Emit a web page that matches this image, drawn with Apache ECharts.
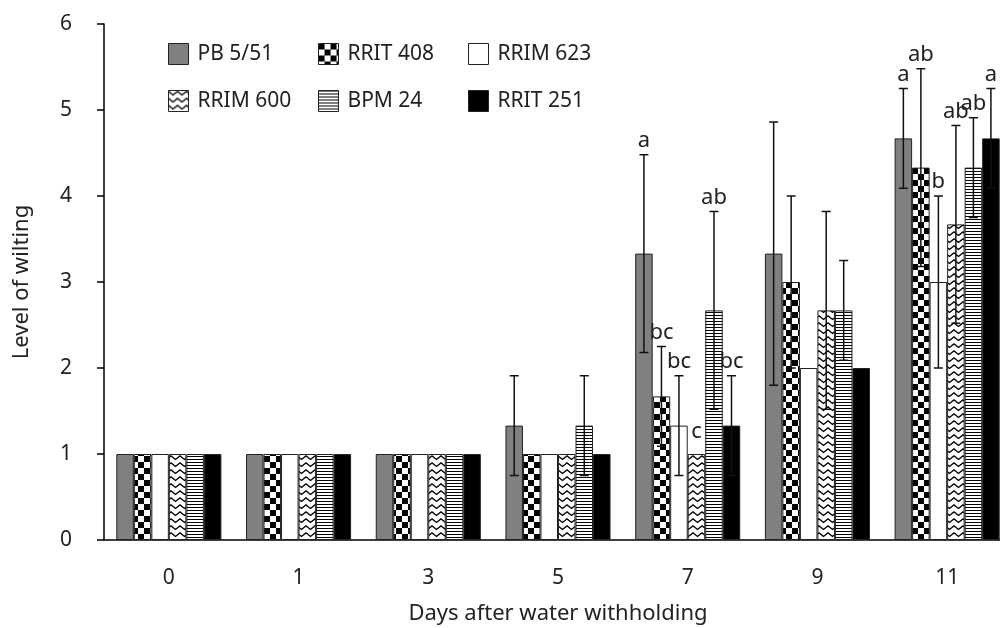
<!DOCTYPE html>
<html>
<head>
<meta charset="utf-8">
<script src="https://cdn.jsdelivr.net/npm/echarts@6/dist/echarts.min.js"></script>
<style>
  html, body { margin: 0; padding: 0; background: #fff; }
  #chart { width: 1000px; height: 628px; }
</style>
</head>
<body>
<div id="chart"></div>
<script>
// categories (days after water withholding)
const days = ['0', '1', '3', '5', '7', '9', '11'];
const clones = ['PB 5/51', 'RRIT 408', 'RRIM 623', 'RRIM 600', 'BPM 24', 'RRIT 251'];

// mean level of wilting
const pb551 = [1, 1, 1, 1.33, 3.33, 3.33, 4.67];
const rrit408 = [1, 1, 1, 1, 1.67, 3, 4.33];
const rrim623 = [1, 1, 1, 1, 1.33, 2, 3];
const rrim600 = [1, 1, 1, 1, 1, 2.67, 3.67];
const bpm24 = [1, 1, 1, 1.33, 2.67, 2.67, 4.33];
const rrit251 = [1, 1, 1, 1, 1.33, 2, 4.67];

// error (half length of error bar)
const pb551Err = [0, 0, 0, 0.58, 1.15, 1.53, 0.58];
const rrit408Err = [0, 0, 0, 0, 0.58, 1.0, 1.15];
const rrim623Err = [0, 0, 0, 0, 0.58, 0, 1.0];
const rrim600Err = [0, 0, 0, 0, 0, 1.15, 1.15];
const bpm24Err = [0, 0, 0, 0.58, 1.15, 0.58, 0.58];
const rrit251Err = [0, 0, 0, 0, 0.58, 0, 0.58];

// significance letters
const pb551Letters = ['', '', '', '', 'a', '', 'a'];
const rrit408Letters = ['', '', '', '', 'bc', '', 'ab'];
const rrim623Letters = ['', '', '', '', 'bc', '', 'b'];
const rrim600Letters = ['', '', '', '', 'c', '', 'ab'];
const bpm24Letters = ['', '', '', '', 'ab', '', 'ab'];
const rrit251Letters = ['', '', '', '', 'bc', '', 'a'];

const yTicks = [0, 1, 2, 3, 4, 5, 6];

const means = [pb551, rrit408, rrim623, rrim600, bpm24, rrit251];
const errs = [pb551Err, rrit408Err, rrim623Err, rrim600Err, bpm24Err, rrit251Err];
const letters = [pb551Letters, rrit408Letters, rrim623Letters, rrim600Letters, bpm24Letters, rrit251Letters];

const FONT = 'Noto Sans';
const TEXT = '#222';
const FS = 22;
const CAT_GAP = 0.19;

// 填充圖案
function makeTile(w, h, draw) {
  const c = document.createElement('canvas');
  c.width = w;
  c.height = h;
  const ctx = c.getContext('2d');
  ctx.fillStyle = '#fff';
  ctx.fillRect(0, 0, w, h);
  draw(ctx);
  return { image: c, repeat: 'repeat' };
}

const checker = makeTile(12, 12, ctx => {
  ctx.fillStyle = '#000';
  ctx.fillRect(0, 0, 6, 6);
  ctx.fillRect(6, 6, 6, 6);
});

const chevron = makeTile(9, 7, ctx => {
  ctx.strokeStyle = '#000';
  ctx.lineWidth = 1.3;
  ctx.beginPath();
  ctx.moveTo(-1, 0);
  ctx.lineTo(4.5, 4.5);
  ctx.lineTo(10, 0);
  ctx.moveTo(-1, 7);
  ctx.lineTo(4.5, 11.5);
  ctx.lineTo(10, 7);
  ctx.stroke();
});

const hlines = makeTile(4, 3, ctx => {
  ctx.fillStyle = '#000';
  ctx.fillRect(0, 0, 4, 1);
});

const fills = ['#808080', checker, '#ffffff', chevron, hlines, '#000000'];

const chart = echarts.init(document.getElementById('chart'));

const barSeries = clones.map((name, s) => ({
  name: name,
  type: 'bar',
  barGap: 0,
  barCategoryGap: (CAT_GAP * 100) + '%',
  itemStyle: { color: fills[s], borderColor: '#222', borderWidth: 1 },
  data: means[s]
}));

// 誤差線 + 字母
const errData = [];
clones.forEach((_, s) => {
  days.forEach((_, i) => {
    errData.push([i, means[s][i], errs[s][i], s, letters[s][i]]);
  });
});

const errSeries = {
  type: 'custom',
  z: 5,
  silent: true,
  data: errData,
  renderItem: (params, api) => {
    const cat = api.value(0);
    const v = api.value(1);
    const e = api.value(2);
    const s = api.value(3);
    const letter = errData[params.dataIndex][4];
    const base = api.coord([cat, v]);
    const band = api.size([1, 0])[0];
    const barW = band * (1 - CAT_GAP) / clones.length;
    const x = base[0] + (s - (clones.length - 1) / 2) * barW;
    const children = [];
    let topY = base[1];
    if (e > 0) {
      const hi = api.coord([cat, v + e])[1];
      const lo = api.coord([cat, v - e])[1];
      topY = hi;
      const st = { stroke: '#111', lineWidth: 1.5 };
      children.push({ type: 'line', shape: { x1: x, y1: hi, x2: x, y2: lo }, style: st });
      children.push({ type: 'line', shape: { x1: x - 4.5, y1: hi, x2: x + 4.5, y2: hi }, style: st });
      children.push({ type: 'line', shape: { x1: x - 4.5, y1: lo, x2: x + 4.5, y2: lo }, style: st });
    } else {
      topY -= 8;
    }
    if (letter) {
      children.push({
        type: 'text',
        style: {
          text: letter, x: x, y: topY - 3,
          align: 'center', verticalAlign: 'bottom',
          fill: TEXT, font: FS + 'px "' + FONT + '"'
        }
      });
    }
    return { type: 'group', children: children };
  }
};

// 圖例：每項單獨定位，對齊三欄
const legendPos = [[168, 43], [318, 43], [468, 43], [168, 90], [318, 90], [468, 90]];
const legends = clones.map((name, s) => ({
  data: [name],
  left: legendPos[s][0],
  top: legendPos[s][1],
  icon: 'rect',
  itemWidth: 20,
  itemHeight: 21,
  itemGap: 0,
  padding: 0,
  selectedMode: false,
  itemStyle: { borderColor: '#222', borderWidth: 1 },
  textStyle: { fontFamily: FONT, fontSize: FS - 1, color: TEXT, padding: [0, 0, 0, 4] }
}));

const option = {
  backgroundColor: '#fff',
  animation: false,
  legend: legends,
  grid: { left: 104, top: 24, bottom: 88, width: 908, outerBoundsMode: 'none' },
  xAxis: {
    type: 'category',
    data: days,
    name: 'Days after water withholding',
    nameLocation: 'middle',
    nameGap: 63,
    nameTextStyle: { fontFamily: FONT, fontSize: FS, color: TEXT },
    axisLine: { lineStyle: { color: '#000', width: 1.5 } },
    axisTick: { length: 8, lineStyle: { color: '#000', width: 1.5 } },
    axisLabel: { fontFamily: FONT, fontSize: FS - 1, color: TEXT, margin: 28 }
  },
  yAxis: {
    type: 'value',
    min: yTicks[0],
    max: yTicks[yTicks.length - 1],
    interval: 1,
    name: 'Level of wilting',
    nameLocation: 'middle',
    nameGap: 71,
    nameTextStyle: { fontFamily: FONT, fontSize: FS, color: TEXT },
    axisLine: { show: true, lineStyle: { color: '#000', width: 1.5 } },
    axisTick: { show: true, length: 7, lineStyle: { color: '#000', width: 1.5 } },
    axisLabel: { fontFamily: FONT, fontSize: FS - 1, color: TEXT, margin: 32 },
    splitLine: { show: false }
  },
  series: [...barSeries, errSeries]
};

chart.setOption(option);
</script>
</body>
</html>
